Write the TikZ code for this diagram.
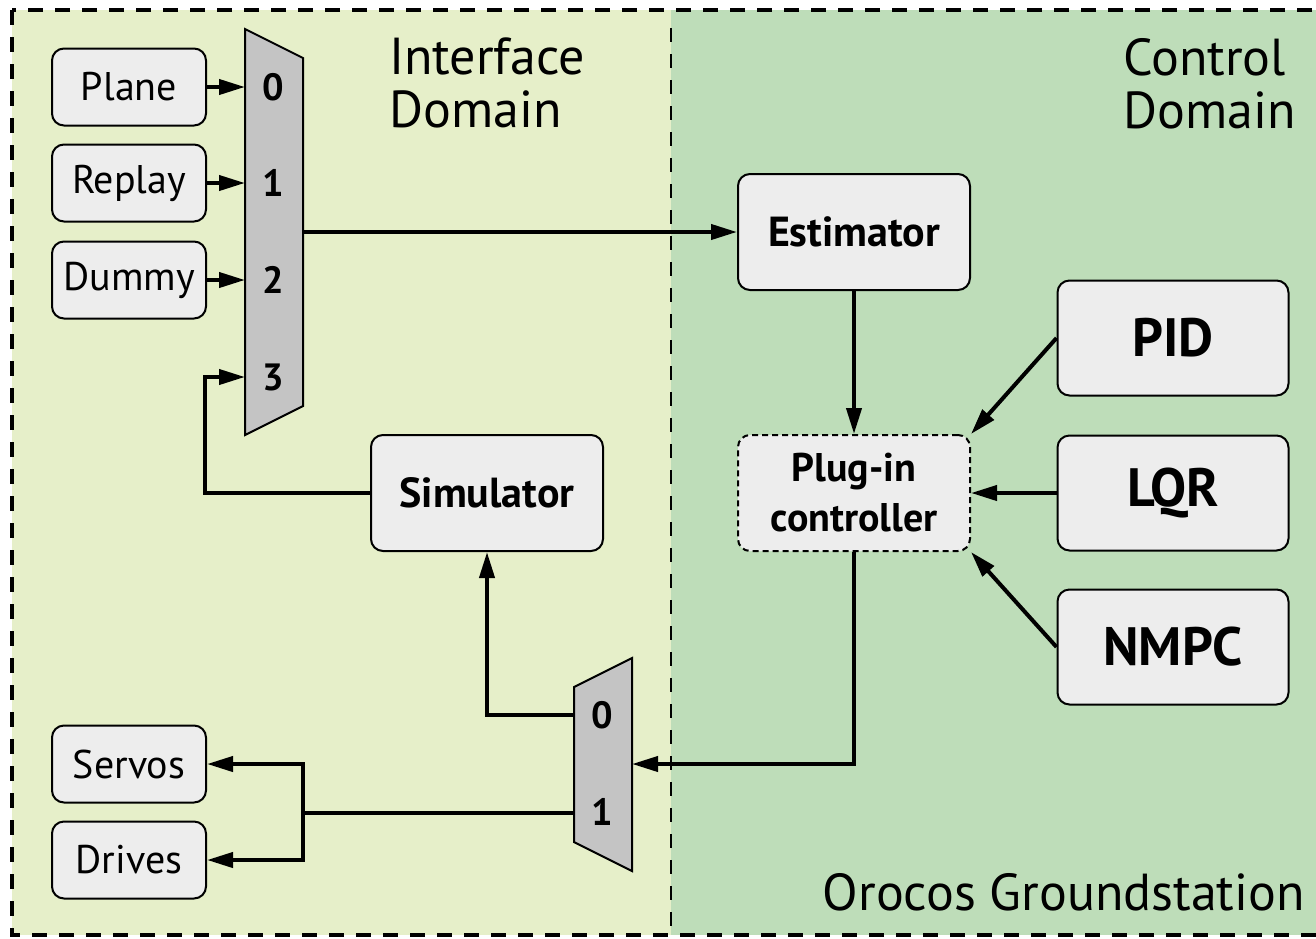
\documentclass[tikz,border=0pt]{standalone}
\usepackage{fontspec}
\setmainfont{PT Sans}
\usetikzlibrary{arrows.meta}
\definecolor{ifcol}{HTML}{E6EFC9}
\definecolor{ctcol}{HTML}{BEDDB9}
\definecolor{boxgray}{HTML}{EDEDED}
\definecolor{muxgray}{HTML}{C4C4C4}
\begin{document}
\begin{tikzpicture}[x=1pt,y=-1pt,
  box/.style={draw=black, line width=2pt, fill=boxgray, rounded corners=12pt, inner sep=0pt},
  smallbox/.style={box, minimum width=154pt, minimum height=77pt, font=\fontsize{40}{44}\selectfont},
  bigbox/.style={box, minimum width=232pt, minimum height=116pt, font=\bfseries\fontsize{42}{46}\selectfont},
  ctrlbox/.style={box, minimum width=231pt, minimum height=115pt, font=\bfseries\fontsize{54}{58}\selectfont},
  mux/.style={draw=black, line width=2pt, fill=muxgray, line join=miter},
  muxlabel/.style={font=\bfseries\fontsize{38}{40}\selectfont, inner sep=0pt},
  wire/.style={line width=4pt},
  conn/.style={wire, -{Triangle[length=26pt,width=15pt]}},
  title/.style={font=\fontsize{52}{53}\selectfont, inner sep=0pt, align=left}
]
\clip (0,0) rectangle (1316,938);
% domains
\fill[ifcol] (12,10) rectangle (671,935);
\fill[ctcol] (671,10) rectangle (1330,935);
\draw[line width=2pt, dash pattern=on 14pt off 12pt] (671,28) -- (671,938);
\draw[line width=4pt, dash pattern=on 15pt off 12pt] (12,10) rectangle (1330,935);

% titles
\node[title, anchor=north west] (ifdom) at (389,38) {Interface\\Domain};
\node[title, anchor=north west] (ctdom) at (1123,38) {Control\\Domain};
\node[title, anchor=base east] (oroc) at (1305,910) {Orocos Groundstation};

% input boxes
\node[smallbox] (plane) at (129,87) {Plane};
\node[smallbox] (replay) at (129,183) {Replay};
\node[smallbox] (dummy) at (129,280) {Dummy};
\node[smallbox] (servos) at (129,764) {Servos};
\node[smallbox] (drives) at (129,860) {Drives};

% mux 1
\draw[mux] (245,29) -- (303,58) -- (303,406) -- (245,435) -- cycle;
\coordinate (m1i0) at (245,87);
\coordinate (m1i1) at (245,183);
\coordinate (m1i2) at (245,280);
\coordinate (m1i3) at (245,377);
\coordinate (m1o) at (303,232);
\node[muxlabel] (l10) at (273,87) {0};
\node[muxlabel] (l11) at (273,183) {1};
\node[muxlabel] (l12) at (273,280) {2};
\node[muxlabel] (l13) at (273,377) {3};

% mux 2
\draw[mux] (574,687) -- (632,658) -- (632,871) -- (574,842) -- cycle;
\coordinate (m2i) at (632,764);
\coordinate (m2o0) at (574,715);
\coordinate (m2o1) at (574,813);
\node[muxlabel] (l20) at (602,715) {0};
\node[muxlabel] (l21) at (602,812) {1};

% main boxes
\node[bigbox] (est) at (854,232) {Estimator};
\node[bigbox] (sim) at (487,493) {Simulator};
\node[bigbox, dash pattern=on 6pt off 4pt, align=center, font=\bfseries\fontsize{40}{50}\selectfont] (plug) at (854,493) {Plug-in\\controller};
\node[ctrlbox] (pid) at (1173,338) {PID};
\node[ctrlbox] (lqr) at (1173,493) {LQR};
\node[ctrlbox] (nmpc) at (1173,647) {NMPC};

% connectors
\draw[conn] (plane.east) -- (m1i0);
\draw[conn] (replay.east) -- (m1i1);
\draw[conn] (dummy.east) -- (m1i2);
\coordinate (simbend) at (205,377);
\draw[conn] (sim.west) -| (simbend) -- (m1i3);
\draw[conn] (m1o) -- (m1o -| est.west);
\draw[conn] (est) -- (plug);
\draw[conn] (pid.west) -- (plug.north east);
\draw[conn] (lqr) -- (plug);
\draw[conn] (nmpc.west) -- (plug.south east);
\draw[conn] (plug.south) |- (m2i);
\draw[conn] (m2o0) -| (sim.south);
\coordinate (br) at (303,813);
\draw[wire] (m2o1) -- (br);
\draw[conn] (br) |- (servos.east);
\draw[conn] (br) |- (drives.east);
\end{tikzpicture}
\end{document}
